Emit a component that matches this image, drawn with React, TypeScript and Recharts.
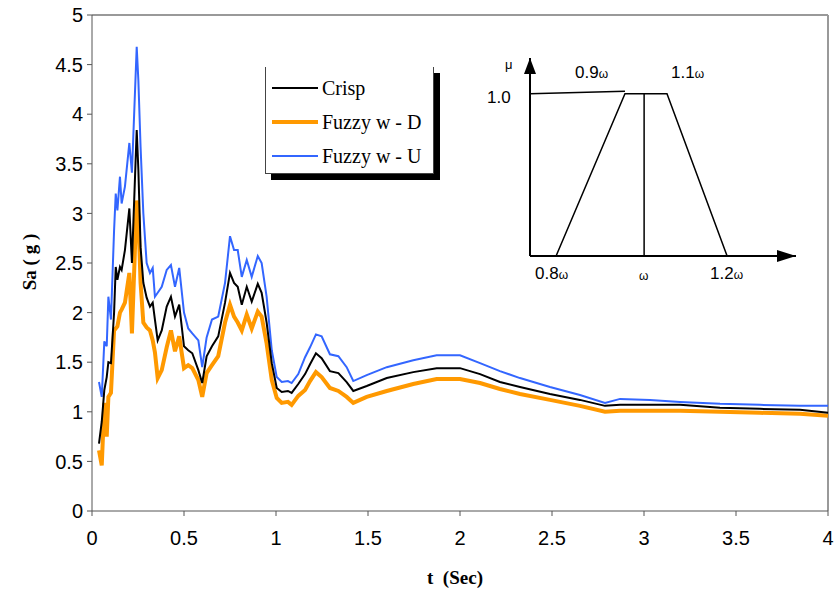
import { LineChart, Line, XAxis, YAxis, ReferenceLine } from 'recharts';

// time axis (sec)
const time = [
  0.038, 0.053, 0.067, 0.08, 0.089, 0.103, 0.12, 0.129, 0.138, 0.152, 0.161, 0.179, 0.203, 0.217,
  0.243, 0.252, 0.264, 0.279, 0.297, 0.315, 0.33, 0.342, 0.357, 0.379, 0.406, 0.429, 0.451, 0.474,
  0.5, 0.523, 0.545, 0.578, 0.599, 0.623, 0.652, 0.686, 0.723, 0.75, 0.772, 0.792, 0.814, 0.841,
  0.868, 0.901, 0.922, 0.949, 0.977, 1.004, 1.031, 1.065, 1.085, 1.121, 1.158, 1.185, 1.217, 1.248,
  1.293, 1.339, 1.384, 1.42, 1.493, 1.602, 1.746, 1.873, 2.0, 2.109, 2.217, 2.326, 2.489, 2.652,
  2.788, 2.87, 3.033, 3.196, 3.413, 3.63, 3.848, 4.0,
];

const crisp = [
  0.68, 0.9, 1.22, 1.35, 1.5, 1.49, 2.0, 2.46, 2.33, 2.46, 2.43, 2.63, 3.05, 2.5,
  3.84, 3.44, 2.66, 2.3, 2.15, 2.06, 2.1, 1.93, 1.72, 1.82, 2.06, 2.16, 1.96, 2.08,
  1.66, 1.62, 1.59, 1.42, 1.29, 1.56, 1.66, 1.76, 2.1, 2.4, 2.3, 2.26, 2.08, 2.26,
  2.11, 2.29, 2.2, 1.9, 1.49, 1.24, 1.2, 1.21, 1.19, 1.28, 1.38, 1.48, 1.59, 1.54,
  1.41, 1.39, 1.3, 1.21, 1.26, 1.34, 1.4, 1.44, 1.44, 1.38, 1.3, 1.25, 1.18, 1.12,
  1.06, 1.07, 1.07, 1.07, 1.04, 1.03, 1.02, 0.99,
];

const fuzzyD = [
  0.61, 0.46, 1.09, 0.75, 1.15, 1.19, 1.82, 1.84, 1.86, 2.0, 2.03, 2.1, 2.4, 1.79,
  3.13, 2.97, 2.3, 1.9, 1.85, 1.82, 1.72, 1.6, 1.34, 1.42, 1.65, 1.82, 1.61, 1.76,
  1.44, 1.47, 1.44, 1.32, 1.15, 1.39, 1.47, 1.56, 1.9, 2.08, 1.96, 1.9, 1.82, 1.98,
  1.84, 2.01, 1.96, 1.69, 1.32, 1.14, 1.09, 1.1, 1.07, 1.16, 1.22, 1.31, 1.4, 1.35,
  1.24, 1.21, 1.15, 1.09, 1.15, 1.21, 1.28, 1.33, 1.33, 1.29, 1.23, 1.18, 1.12, 1.06,
  1.0, 1.01, 1.01, 1.01, 1.0, 0.99, 0.98, 0.96,
];

const fuzzyU = [
  1.3, 1.15, 1.71, 1.66, 2.16, 1.93, 2.83, 3.2, 3.03, 3.37, 3.1, 3.27, 3.71, 3.41,
  4.68, 4.34, 3.67, 3.0, 2.5, 2.4, 2.45, 2.16, 2.2, 2.26, 2.43, 2.48, 2.26, 2.45,
  2.0, 1.84, 1.79, 1.72, 1.45, 1.75, 1.93, 1.96, 2.3, 2.77, 2.63, 2.63, 2.36, 2.53,
  2.36, 2.57, 2.5, 2.16, 1.62, 1.35, 1.3, 1.31, 1.29, 1.38, 1.55, 1.65, 1.78, 1.76,
  1.58, 1.56, 1.45, 1.31, 1.37, 1.45, 1.52, 1.57, 1.57, 1.49, 1.41, 1.34, 1.25, 1.17,
  1.09, 1.13, 1.12, 1.1, 1.08, 1.07, 1.06, 1.06,
];

const xTicks = [0, 0.5, 1, 1.5, 2, 2.5, 3, 3.5, 4];
const yTicks = [0, 0.5, 1, 1.5, 2, 2.5, 3, 3.5, 4, 4.5, 5];

const data = time.map((t, i) => ({
  t,
  crisp: crisp[i],
  down: fuzzyD[i],
  up: fuzzyU[i],
}));

// inset membership sketch (schematic units along the axes)
const insetShape = [
  { u: 0.098, m: 0 },
  { u: 0.357, m: 1 },
  { u: 0.515, m: 1 },
  { u: 0.741, m: 0 },
];
const insetTop = [
  { u: 0, m: 1.0 },
  { u: 0.357, m: 1.015 },
];
const insetMid = [
  { u: 0.429, m: 0 },
  { u: 0.429, m: 1 },
];
const insetXAxis = [
  { u: 0, m: 0 },
  { u: 1, m: 0 },
];
const insetYAxis = [
  { u: 0, m: 0 },
  { u: 0, m: 1.22 },
];

const sans = "'Liberation Sans', Arial, sans-serif";
const serif = "'Liberation Serif', 'Times New Roman', serif";

const arrowUp = (p: any) =>
  p.index === 1 ? (
    <polygon key="au" points={`${p.cx},${p.cy} ${p.cx - 6},${p.cy + 16} ${p.cx + 6},${p.cy + 16}`} fill="#000" />
  ) : (
    <g key={`a${p.index}`} />
  );

const arrowRight = (p: any) =>
  p.index === 1 ? (
    <polygon key="ar" points={`${p.cx},${p.cy} ${p.cx - 19},${p.cy - 6} ${p.cx - 19},${p.cy + 6}`} fill="#000" />
  ) : (
    <g key={`b${p.index}`} />
  );

const legendRows = [
  { label: 'Crisp', color: '#000000', width: 2 },
  { label: 'Fuzzy w - D', color: '#FF9900', width: 4 },
  { label: 'Fuzzy w - U', color: '#3366FF', width: 2 },
];

const txt = (s: string, left: number, top: number, size: number, extra: any = {}) => (
  <div
    style={{
      position: 'absolute',
      left,
      top,
      fontSize: size,
      fontFamily: sans,
      lineHeight: 1,
      whiteSpace: 'nowrap',
      ...extra,
    }}
  >
    {s}
  </div>
);

export default function App() {
  return (
    <div style={{ position: 'absolute', left: 0, top: 0, width: 835, height: 595, background: '#fff' }}>
      <LineChart width={835} height={595} data={data} margin={{ top: 15, right: 7, left: 32, bottom: 54 }}>
        <XAxis
          dataKey="t"
          type="number"
          domain={[0, 4]}
          ticks={xTicks}
          height={30}
          stroke="#555"
          tickSize={5}
          tickMargin={15}
          tick={{ fill: '#000', fontSize: 20, fontFamily: sans }}
        />
        <YAxis
          type="number"
          domain={[0, 5]}
          ticks={yTicks}
          width={60}
          stroke="#555"
          tickSize={5}
          tickMargin={4}
          tick={{ fill: '#000', fontSize: 20, fontFamily: sans }}
        />
        <ReferenceLine y={5} stroke="#999" strokeWidth={2} />
        <ReferenceLine x={4} stroke="#999" strokeWidth={2} />
        <Line dataKey="up" stroke="#3366FF" strokeWidth={2} dot={false} isAnimationActive={false} />
        <Line dataKey="down" stroke="#FF9900" strokeWidth={4} dot={false} isAnimationActive={false} />
        <Line dataKey="crisp" stroke="#000000" strokeWidth={2} dot={false} isAnimationActive={false} />
      </LineChart>

      {/* axis titles */}
      <div
        style={{
          position: 'absolute',
          left: 30,
          top: 262,
          transform: 'translate(-50%, -50%) rotate(-90deg)',
          fontFamily: serif,
          fontWeight: 'bold',
          fontSize: 19,
          whiteSpace: 'nowrap',
        }}
      >
        Sa ( g )
      </div>
      <div
        style={{
          position: 'absolute',
          left: 455,
          top: 578,
          transform: 'translate(-50%, -50%)',
          fontFamily: serif,
          fontWeight: 'bold',
          fontSize: 19,
          whiteSpace: 'pre',
        }}
      >
        {'t  (Sec)'}
      </div>

      {/* legend */}
      <div
        style={{
          position: 'absolute',
          left: 265,
          top: 67,
          width: 167,
          height: 106,
          borderLeft: '1px solid #444',
          borderRight: '1px solid #444',
          borderBottom: '1px solid #444',
          boxShadow: '6px 6px 0 #000',
          background: '#fff',
        }}
      >
        {legendRows.map((r, i) => (
          <div key={r.label} style={{ position: 'absolute', left: 6, top: 10 + i * 34, height: 22, display: 'flex', alignItems: 'center' }}>
            <div style={{ width: 46, height: r.width, background: r.color }} />
            <span style={{ fontFamily: serif, fontSize: 20, marginLeft: 4, lineHeight: 1 }}>{r.label}</span>
          </div>
        ))}
      </div>

      {/* inset membership function */}
      <div style={{ position: 'absolute', left: 520, top: 48 }}>
        <LineChart width={286} height={218} margin={{ top: 10, right: 10, left: 10, bottom: 10 }}>
          <XAxis dataKey="u" type="number" domain={[0, 1]} hide />
          <YAxis type="number" domain={[0, 1.22]} hide />
          <Line data={insetYAxis} dataKey="m" stroke="#000" strokeWidth={2} dot={arrowUp} isAnimationActive={false} />
          <Line data={insetXAxis} dataKey="m" stroke="#000" strokeWidth={2} dot={arrowRight} isAnimationActive={false} />
          <Line data={insetTop} dataKey="m" stroke="#000" strokeWidth={1.5} dot={false} isAnimationActive={false} />
          <Line data={insetShape} dataKey="m" stroke="#000" strokeWidth={1.5} dot={false} isAnimationActive={false} />
          <Line data={insetMid} dataKey="m" stroke="#000" strokeWidth={1.5} dot={false} isAnimationActive={false} />
        </LineChart>
      </div>
      {txt('\u03bc', 505, 58, 13)}
      {txt('1.0', 487, 89, 17)}
      <div style={{ position: 'absolute', left: 575, top: 64, fontFamily: sans, fontSize: 17, lineHeight: 1, whiteSpace: 'nowrap' }}>
        0.9<span style={{ fontSize: 12 }}>{'\u03c9'}</span>
      </div>
      <div style={{ position: 'absolute', left: 671, top: 64, fontFamily: sans, fontSize: 17, lineHeight: 1, whiteSpace: 'nowrap' }}>
        1.1<span style={{ fontSize: 12 }}>{'\u03c9'}</span>
      </div>
      <div style={{ position: 'absolute', left: 535, top: 265, fontFamily: sans, fontSize: 17, lineHeight: 1, whiteSpace: 'nowrap' }}>
        0.8<span style={{ fontSize: 12 }}>{'\u03c9'}</span>
      </div>
      <div style={{ position: 'absolute', left: 639, top: 270, fontFamily: sans, fontSize: 12, lineHeight: 1 }}>{'\u03c9'}</div>
      <div style={{ position: 'absolute', left: 710, top: 265, fontFamily: sans, fontSize: 17, lineHeight: 1, whiteSpace: 'nowrap' }}>
        1.2<span style={{ fontSize: 12 }}>{'\u03c9'}</span>
      </div>
    </div>
  );
}
